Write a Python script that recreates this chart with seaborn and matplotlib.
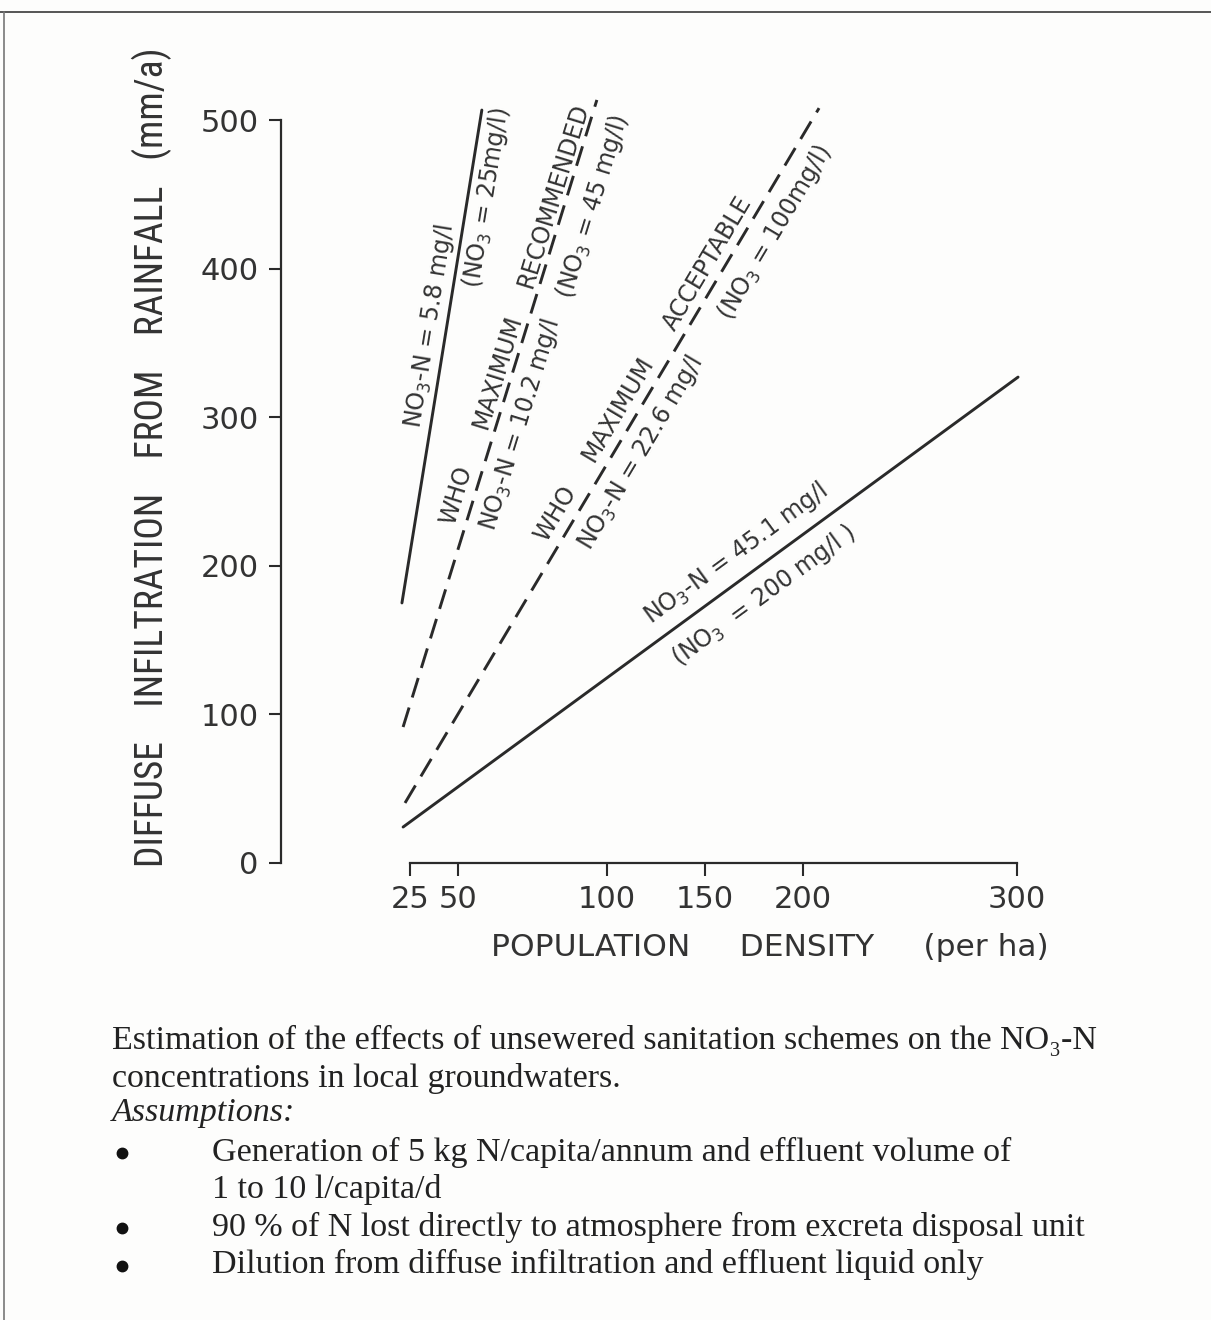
import matplotlib.pyplot as plt
import matplotlib.font_manager as fm
from matplotlib.lines import Line2D
import pandas as pd
import seaborn as sns
import numpy as np

# Lines (density per ha, infiltration mm/a)
line_names = ['5.8', '10.2', '22.6', '45.1']
line_kind = ['solid', 'dashed', 'dashed', 'solid']
x_start = [20.8, 21.4, 22.4, 21.4]
x_end = [58.0, 96.6, 207.5, 300.5]
y_start = [175.0, 91.5, 40.4, 24.2]
y_end = [506.7, 513.5, 508.0, 327.0]

x_ticks = [25, 50, 100, 150, 200, 300]
y_ticks = [0, 100, 200, 300, 400, 500]

caption = ['Estimation of the effects of unsewered sanitation schemes on the NO\u2083-N',
           'concentrations in local groundwaters.']
assumptions = [['Generation of 5 kg N/capita/annum and effluent volume of', '1 to 10 l/capita/d'],
               ['90 % of N lost directly to atmosphere from excreta disposal unit'],
               ['Dilution from diffuse infiltration and effluent liquid only']]

df = pd.DataFrame({
    'line': np.repeat(line_names, 2),
    'kind': np.repeat(line_kind, 2),
    'density': np.ravel(np.column_stack([x_start, x_end])),
    'infiltration': np.ravel(np.column_stack([y_start, y_end])),
})

# the hand drawn density axis is not evenly spaced, so use a piecewise scale
scale_vals = [0, 25, 50, 100, 150, 200, 300, 400]
scale_px = [362, 410, 458, 607, 705, 803, 1017, 1231]
def fwd(v):
    return np.interp(v, scale_vals, scale_px)
def inv(p):
    return np.interp(p, scale_px, scale_vals)

sns.set_style('ticks')
avail = {f.name for f in fm.fontManager.ttflist}
narrow = next((f for f in ['Liberation Sans Narrow', 'DejaVu Sans Condensed', 'Roboto Condensed'] if f in avail), 'DejaVu Sans')
plt.rcParams['font.family'] = ['DejaVu Sans']
ink = '#2a2a2a'

W, H = 1211, 1320
fig = plt.figure(figsize=(W / 100, H / 100), dpi=100, facecolor='#fdfdfc')
x0, x1 = 20, 302
ax = fig.add_axes([fwd(x0) / W, (H - 863) / H, (fwd(x1) - fwd(x0)) / W, 520 * 1.486 / H])
ax.set_facecolor('none')
ax.set_xscale('function', functions=(fwd, inv))

sns.lineplot(data=df, x='density', y='infiltration', hue='line', style='kind',
             palette={n: ink for n in line_names},
             dashes={'solid': '', 'dashed': (7, 3.6)},
             linewidth=2.1, legend=False, errorbar=None, ax=ax)

ax.set_xlim(x0, x1)
ax.set_ylim(0, 520)
ax.set_xticks(x_ticks)
ax.set_xticklabels([str(t) for t in x_ticks])
ax.set_yticks(y_ticks)
ax.set_yticklabels([str(t) for t in y_ticks])
ax.minorticks_off()
sns.despine(ax=ax, offset={'left': 86, 'bottom': 0})
ax.spines['left'].set_bounds(0, 500)
ax.spines['bottom'].set_bounds(25, 300)
for s in ['left', 'bottom']:
    ax.spines[s].set_color(ink)
    ax.spines[s].set_linewidth(1.6)
ax.tick_params(length=9, width=1.5, color=ink, labelcolor='#333', labelsize=22, pad=7)

ax.set_ylabel('DIFFUSE    INFILTRATION    FROM    RAINFALL   (mm/a)',
              family=narrow, fontsize=27, color='#333', va='center')
ax.yaxis.set_label_coords((152 - fwd(x0)) / (fwd(x1) - fwd(x0)), (863 - 457) / (520 * 1.486))
ax.set_xlabel('POPULATION     DENSITY     (per ha)', fontsize=22.5,
              color='#333', va='center')
ax.xaxis.set_label_coords((770 - fwd(x0)) / (fwd(x1) - fwd(x0)), (863 - 948) / (520 * 1.486))

# labels written along each line: (text, distance along, distance off the line) in px
labels = {
    '5.8': [(r'NO$_3$-N = 5.8 mg/l', 277, 17), (r'(NO$_3$ = 25mg/l)', 413, -19)],
    '10.2': [('WHO', 237, 17), ('MAXIMUM', 367, 15), ('RECOMMENDED', 552, 13),
             (r'NO$_3$-N = 10.2 mg/l', 323, -23), (r'(NO$_3$ = 45 mg/l)', 553, -28)],
    '22.6': [('WHO', 326, 19), ('MAXIMUM', 447, 19), ('ACCEPTABLE', 618, 16),
             (r'NO$_3$-N = 22.6 mg/l', 421, -23), (r'(NO$_3$ = 100mg/l)', 679, -26)],
    '45.1': [(r'NO$_3$-N = 45.1 mg/l', 430, 24), (r'(NO$_3$  = 200 mg/l )', 428, -26)],
}
for i, name in enumerate(line_names):
    p0 = ax.transData.transform((x_start[i], y_start[i]))
    p1 = ax.transData.transform((x_end[i], y_end[i]))
    d = p1 - p0
    u = d / np.hypot(*d)
    n = np.array([-u[1], u[0]])
    ang = np.degrees(np.arctan2(d[1], d[0]))
    for text, along, off in labels[name]:
        dx, dy = u * along + n * off
        ax.annotate(text, xy=(x_start[i], y_start[i]), xytext=(dx, dy),
                    textcoords='offset pixels', rotation=ang, rotation_mode='anchor',
                    ha='center', va='center', fontsize=17, color='#333')

# caption below the chart
serif = ['Liberation Serif', 'DejaVu Serif']
fig.text(112 / W, 1 - 1040 / H, caption[0], family=serif, fontsize=24.5, color='#222', va='center')
fig.text(112 / W, 1 - 1078 / H, caption[1], family=serif, fontsize=24.5, color='#222', va='center')
fig.text(112 / W, 1 - 1113 / H, 'Assumptions:', family=serif, style='italic', fontsize=24.5,
         color='#222', va='center')
yy = 1152
for item in assumptions:
    fig.add_artist(Line2D([122 / W], [1 - (yy + 1) / H], transform=fig.transFigure,
                          marker='o', ms=7.5, color='#111', lw=0))
    for text in item:
        fig.text(212 / W, 1 - yy / H, text, family=serif, fontsize=24.5, color='#222',
                 va='center')
        yy += 37.5

# scanned page frame
fig.add_artist(Line2D([0, 1], [1 - 12 / H] * 2, transform=fig.transFigure, color='#555', lw=1.4))
fig.add_artist(Line2D([4 / W] * 2, [0, 1 - 12 / H], transform=fig.transFigure, color='#777', lw=1.2))

fig.savefig('out.png', dpi=100, facecolor=fig.get_facecolor())
